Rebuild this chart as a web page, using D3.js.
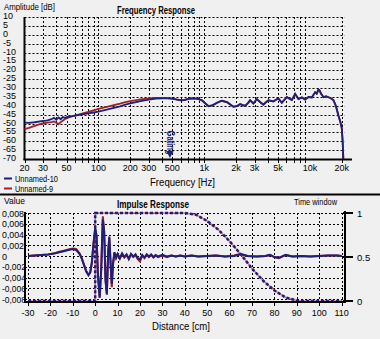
<!DOCTYPE html>
<html><head><meta charset="utf-8">
<script src="https://cdn.jsdelivr.net/npm/d3@7"></script>
<style>
html,body{margin:0;padding:0;background:#f0f0f0;}
svg{display:block;font-family:"Liberation Sans",Arial,sans-serif;}
</style></head><body>
<svg id="c" width="380" height="339"></svg>
<script>
// ---------- data ----------
const seriesNames = ["Unnamed-10", "Unnamed-9"];
const freqTicks = [20, 30, 50, 100, 200, 300, 500, 1000, 2000, 3000, 5000, 10000, 20000];
const freqTickLabels = ["20", "30", "50", "100", "200", "300", "500", "1k", "2k", "3k", "5k", "10k", "20k"];
const ampTicks = [10, 5, 0, -5, -10, -15, -20, -25, -30, -35, -40, -45, -50, -55, -60, -65, -70];
const freq = [20, 22, 25, 28, 30, 33, 36, 38, 40, 42, 44, 46, 48, 50, 55, 60, 70, 80, 90, 100, 120, 140, 160, 180, 200, 250, 300, 350, 400, 450, 500, 550, 600, 650, 700, 750, 850, 950, 1020, 1100, 1200, 1320, 1470, 1650, 1890, 2050, 2190, 2300, 2440, 2600, 2720, 2920, 3150, 3400, 3630, 3850, 4050, 4300, 4520, 4800, 5040, 5420, 5700, 6050, 6400, 6750, 7250, 7790, 8390, 9020, 9690, 10430, 11200, 11600, 12050, 12400, 12690, 13430, 14200, 14980, 15800, 16690, 17600, 18610, 19400, 20000, 20400, 20700];
const ampBlue = [-49.5, -49.6, -49.3, -48.8, -48.6, -48.2, -47.6, -46.8, -47.9, -46.6, -47.6, -46.4, -46.8, -46.4, -46.0, -45.6, -44.9, -44.3, -43.8, -43.3, -42.2, -41.2, -40.3, -39.4, -38.7, -37.4, -36.5, -36.0, -35.8, -35.8, -36.0, -36.5, -36.9, -36.8, -36.3, -35.9, -36.0, -36.8, -38.5, -40.3, -39.8, -38.4, -37.2, -38.0, -40.6, -40.2, -39.0, -39.6, -40.1, -38.5, -36.9, -38.8, -36.2, -38.0, -39.4, -38.0, -36.9, -37.2, -37.6, -36.5, -35.9, -38.4, -36.8, -35.0, -36.0, -36.8, -33.3, -36.2, -35.3, -36.6, -35.0, -35.3, -32.3, -33.2, -30.8, -31.5, -33.0, -35.2, -34.6, -35.2, -35.8, -36.8, -40.0, -45.5, -49.0, -52.5, -60.0, -70.0];
const ampRed = [-53.2, -52.5, -51.3, -50.4, -50.0, -49.5, -49.2, -48.8, -49.6, -50.3, -49.2, -48.4, -47.6, -47.0, -46.2, -45.5, -44.4, -43.5, -42.6, -41.8, -40.6, -39.6, -38.8, -38.0, -37.4, -36.4, -35.8, -35.6, -35.6, -35.7, -36.0, -36.4, -36.8, -36.7, -36.2, -35.9, -36.0, -36.9, -38.6, -40.2, -39.7, -38.3, -37.2, -38.1, -40.5, -40.1, -39.1, -39.5, -40.0, -38.4, -37.0, -38.7, -36.3, -38.0, -39.3, -37.9, -37.0, -37.2, -37.5, -36.6, -36.0, -38.3, -36.9, -35.1, -36.0, -36.7, -33.5, -36.1, -35.4, -36.5, -35.1, -35.2, -32.5, -33.2, -31.0, -31.6, -33.1, -35.1, -34.7, -35.2, -35.8, -36.9, -40.2, -45.6, -49.2, -52.6, -60.2, -70.0];
const gatingFreq = 480;

const distTicks = [-30, -20, -10, 0, 10, 20, 30, 40, 50, 60, 70, 80, 90, 100, 110];
const valueTicks = [0.008, 0.006, 0.004, 0.002, 0, -0.002, -0.004, -0.006, -0.008];
const valueTickLabels = ["0,008", "0,006", "0,004", "0,002", "0", "-0,002", "-0,004", "-0,006", "-0,008"];
const windowTicks = [1, 0.5, 0];
const windowTickLabels = ["1", "0.5", "0"];
const dist = [-30, -27, -24, -21, -18, -16, -14, -12, -10, -8.5, -7, -6, -5, -4, -3, -2.2, -1.5, -0.8, 0, 0.6, 1.2, 2, 2.7, 3.4, 4, 4.6, 5.2, 5.8, 6.3, 6.9, 7.4, 8, 8.6, 9.3, 10, 11, 12, 13, 14, 15, 16, 17, 18, 19, 20, 21, 22, 23, 24, 25, 26, 27, 28, 30, 32, 34, 36, 38, 40, 43, 46, 50, 54, 58, 62, 65, 68, 72, 76, 78, 80, 82, 85, 88, 92, 96, 100, 104, 108, 110];
const irBlue = [0, 0.0001, 0.0002, 0.0003, 0.0005, 0.0007, 0.0009, 0.0011, 0.0013, 0.0011, 0.0004, -0.0005, -0.0017, -0.0029, -0.0036, -0.003, -0.0012, 0.0022, 0.0052, 0.0038, -0.0035, -0.0078, -0.0025, 0.0068, 0.0045, -0.0045, -0.0072, 0.0008, 0.0036, -0.0015, -0.0052, -0.0012, 0.0007, -0.0003, 0.0004, -0.0004, 0.0005, -0.0002, 0.0003, -0.0005, 0.0004, -0.0001, 0.0003, -0.0004, -0.0006, 0.0002, -0.0003, 0.0003, -0.0001, 0.0003, -0.0002, 0.0002, -0.0001, 0.0002, -0.0001, 0.0001, -0.0001, 0.0001, -0.0001, 0.0001, -0.0001, 0, 0.0001, -0.0001, 0, 0.0003, 0, -0.0001, 0, 0.0002, -0.0002, -0.0004, 0.0002, -0.0001, 0, -0.0001, 0, 0.0001, 0.0001, 0];
const irRed = [0, 0.0001, 0.0002, 0.0003, 0.0005, 0.0008, 0.001, 0.0012, 0.0014, 0.0013, 0.0005, -0.0004, -0.0016, -0.0028, -0.0035, -0.0031, -0.0013, 0.002, 0.005, 0.0036, -0.0033, -0.0076, -0.0022, 0.0074, 0.0047, -0.0043, -0.007, 0.0009, 0.0034, -0.0018, -0.0058, -0.0014, 0.0006, -0.0004, 0.0003, -0.0005, 0.0004, -0.0003, 0.0002, -0.0006, 0.0003, -0.0002, 0.0002, -0.0006, -0.001, 0.0001, -0.0004, 0.0002, -0.0002, 0.0002, -0.0003, 0.0001, -0.0002, 0.0001, -0.0002, 0.0001, -0.0001, 0.0001, -0.0001, 0.0001, -0.0001, 0, 0.0001, -0.0001, 0.0001, 0.0004, 0, -0.0001, 0, 0.0002, -0.0002, -0.0003, 0.0002, -0.0001, 0, -0.0001, 0, 0.0001, 0.0001, 0];
const winDist = [-30, 0, 0, 40, 45, 50, 55, 60, 65, 70, 75, 80, 85, 90, 93, 110];
const winVal = [0, 0, 1, 1, 0.98, 0.91, 0.81, 0.68, 0.53, 0.37, 0.23, 0.12, 0.04, 0.005, 0, 0];

// ---------- drawing ----------
const svg = d3.select("#c");
const BLUE = "#1f1f78", RED = "#a0202c";
const gridDash = "2,2";

// ===== Frequency response =====
const xF = d3.scaleLog().domain([20, 25000]).range([24.5, 352]);
const yF = d3.scaleLinear().domain([-70, 10]).range([159, 17]);
const gF = svg.append("g");
const gridFreqs = [];
[10, 100, 1000].forEach(dec => { for (let k = 1; k <= 9; k++) { const f = k * dec; if (f > 20) gridFreqs.push(f); } });
gridFreqs.push(20000);
const xGridEnd = xF(20000) + 3;
gF.selectAll("line.hg").data(ampTicks.filter(d => d > -70)).join("line")
  .attr("x1", xF(20)).attr("x2", xGridEnd).attr("y1", d => Math.round(yF(d)) + 0.5).attr("y2", d => Math.round(yF(d)) + 0.5)
  .attr("stroke", "#000").attr("stroke-dasharray", gridDash).attr("stroke-width", 1);
gF.selectAll("line.vg").data(gridFreqs).join("line")
  .attr("x1", d => Math.round(xF(d)) + 0.5).attr("x2", d => Math.round(xF(d)) + 0.5).attr("y1", yF(10)).attr("y2", yF(-70))
  .attr("stroke", "#000").attr("stroke-dasharray", gridDash).attr("stroke-width", 1);
gF.selectAll("line.tk").data([20].concat(gridFreqs)).join("line")
  .attr("x1", d => Math.round(xF(d)) + 0.5).attr("x2", d => Math.round(xF(d)) + 0.5).attr("y1", yF(-70)).attr("y2", yF(-70) + 4)
  .attr("stroke", "#000");
gF.append("line").attr("x1", xF(20)).attr("x2", xF(20)).attr("y1", yF(10)).attr("y2", yF(-70) + 1).attr("stroke", "#000").attr("stroke-width", 2);
gF.append("line").attr("x1", xF(20) - 1).attr("x2", xF(25000)).attr("y1", yF(-70) + 0.5).attr("y2", yF(-70) + 0.5).attr("stroke", "#000").attr("stroke-width", 2);
gF.selectAll("text.yl").data(ampTicks).join("text").attr("x", 3).attr("y", d => yF(d) + 2)
  .attr("font-size", 9).attr("fill", "#000").text(d => String(d));
gF.selectAll("text.xl").data(freqTicks).join("text").attr("x", d => xF(d)).attr("y", 171)
  .attr("text-anchor", "middle").attr("font-size", 9).attr("fill", "#000").text((d, i) => freqTickLabels[i]);
const lineF = d3.line().x(d => xF(d[0])).y(d => yF(d[1]));
gF.append("path").attr("d", lineF(freq.map((f, i) => [f, ampRed[i]]))).attr("fill", "none").attr("stroke", RED).attr("stroke-width", 1.8);
gF.append("path").attr("d", lineF(freq.map((f, i) => [f, ampBlue[i]]))).attr("fill", "none").attr("stroke", BLUE).attr("stroke-width", 1.8);
// gating marker
const gx = xF(gatingFreq);
gF.append("path").attr("d", `M${gx - 4},${yF(-70) - 8} L${gx + 3},${yF(-70) - 8} L${gx - 0.5},${yF(-70) - 1} Z`).attr("fill", BLUE);
gF.append("text").attr("transform", `translate(${gx - 3.5},${yF(-54)}) rotate(90)`)
  .attr("font-size", 10).attr("font-weight", "bold").attr("fill", BLUE)
  .attr("textLength", 24).attr("lengthAdjust", "spacingAndGlyphs").text("Gating");
// titles
svg.append("text").attr("x", 4).attr("y", 10).attr("font-size", 8.5).attr("textLength", 51).attr("lengthAdjust", "spacingAndGlyphs").text("Amplitude [dB]");
svg.append("text").attr("x", 117).attr("y", 14).attr("font-size", 10).attr("font-weight", "bold").attr("textLength", 78).attr("lengthAdjust", "spacingAndGlyphs").text("Frequency Response");
svg.append("text").attr("x", 150).attr("y", 186).attr("font-size", 10).attr("textLength", 65).attr("lengthAdjust", "spacingAndGlyphs").text("Frequency [Hz]");
[BLUE, RED].forEach((c, i) => {
  svg.append("line").attr("x1", 4).attr("x2", 12).attr("y1", 178.5 + i * 10).attr("y2", 178.5 + i * 10).attr("stroke", c).attr("stroke-width", 2);
  svg.append("text").attr("x", 15).attr("y", 181.5 + i * 10).attr("font-size", 8.5).attr("textLength", i === 0 ? 43 : 38).attr("lengthAdjust", "spacingAndGlyphs").text(seriesNames[i]);
});
svg.append("line").attr("x1", 0).attr("x2", 380).attr("y1", 194.5).attr("y2", 194.5).attr("stroke", "#000").attr("stroke-width", 2);

// ===== Impulse response =====
const xI = d3.scaleLinear().domain([-30, 110]).range([28, 341.6]);
const yI = d3.scaleLinear().domain([-0.008, 0.008]).range([299, 213]);
const yW = d3.scaleLinear().domain([0, 1]).range([301, 213]);
const axL = 25, axR = 345, axB = 302;
const gI = svg.append("g");
gI.selectAll("line.hg").data(valueTicks).join("line")
  .attr("x1", axL).attr("x2", axR).attr("y1", d => Math.round(yI(d)) + 0.5).attr("y2", d => Math.round(yI(d)) + 0.5)
  .attr("stroke", "#000").attr("stroke-dasharray", gridDash);
gI.selectAll("line.vg").data(distTicks).join("line")
  .attr("x1", d => Math.round(xI(d)) + 0.5).attr("x2", d => Math.round(xI(d)) + 0.5).attr("y1", yI(0.008)).attr("y2", axB)
  .attr("stroke", "#000").attr("stroke-dasharray", gridDash);
gI.selectAll("line.tk").data(distTicks).join("line")
  .attr("x1", d => Math.round(xI(d)) + 0.5).attr("x2", d => Math.round(xI(d)) + 0.5).attr("y1", axB).attr("y2", axB + 4)
  .attr("stroke", "#000");
gI.selectAll("text.yl").data(valueTicks).join("text").attr("x", 2).attr("y", d => yI(d) + 3.5)
  .attr("font-size", 9).attr("textLength", (d, i) => valueTickLabels[i].length > 3 ? (valueTickLabels[i][0] === "-" ? 24 : 22) : null)
  .attr("lengthAdjust", "spacingAndGlyphs").text((d, i) => valueTickLabels[i]);
gI.selectAll("text.xl").data(distTicks).join("text").attr("x", d => xI(d)).attr("y", 316)
  .attr("text-anchor", "middle").attr("font-size", 9).text(d => String(d));
const lineW = d3.line().x(d => xI(d[0])).y(d => yW(d[1]));
const wPts = winDist.map((x, i) => [x, winVal[i]]);
gI.append("path").attr("d", lineW(wPts)).attr("fill", "none").attr("stroke", "#e07080").attr("stroke-width", 1.5);
gI.append("path").attr("d", lineW(wPts)).attr("fill", "none").attr("stroke", BLUE).attr("stroke-width", 2.5).attr("stroke-dasharray", "3,2");
const lineI = d3.line().x(d => xI(d[0])).y(d => yI(d[1]));
gI.append("path").attr("d", lineI(dist.map((x, i) => [x, irRed[i]]))).attr("fill", "none").attr("stroke", RED).attr("stroke-width", 2);
gI.append("path").attr("d", lineI(dist.map((x, i) => [x, irBlue[i]]))).attr("fill", "none").attr("stroke", BLUE).attr("stroke-width", 2);
gI.append("line").attr("x1", axL).attr("x2", axL).attr("y1", yI(0.008) - 1).attr("y2", axB + 1).attr("stroke", "#000").attr("stroke-width", 2);
gI.append("line").attr("x1", axL - 1).attr("x2", axR + 1).attr("y1", axB).attr("y2", axB).attr("stroke", "#000").attr("stroke-width", 2);
gI.append("line").attr("x1", axR).attr("x2", axR).attr("y1", yW(1) - 2).attr("y2", axB + 1).attr("stroke", "#000").attr("stroke-width", 2);
gI.selectAll("line.rt").data(windowTicks).join("line")
  .attr("x1", axR - 2).attr("x2", axR + 8).attr("y1", d => yW(d)).attr("y2", d => yW(d)).attr("stroke", "#000").attr("stroke-width", 2);
gI.selectAll("text.rl").data(windowTicks).join("text").attr("x", 357).attr("y", d => yW(d) + 4)
  .attr("font-size", 9.5).text((d, i) => windowTickLabels[i]);
svg.append("text").attr("x", 4).attr("y", 204).attr("font-size", 8.5).attr("textLength", 21).attr("lengthAdjust", "spacingAndGlyphs").text("Value");
svg.append("text").attr("x", 117).attr("y", 208).attr("font-size", 10).attr("font-weight", "bold").attr("textLength", 72).attr("lengthAdjust", "spacingAndGlyphs").text("Impulse Response");
svg.append("text").attr("x", 294).attr("y", 205).attr("font-size", 8.5).attr("textLength", 43).attr("lengthAdjust", "spacingAndGlyphs").text("Time window");
svg.append("text").attr("x", 152).attr("y", 330).attr("font-size", 10).attr("textLength", 58).attr("lengthAdjust", "spacingAndGlyphs").text("Distance [cm]");
</script>
</body></html>
